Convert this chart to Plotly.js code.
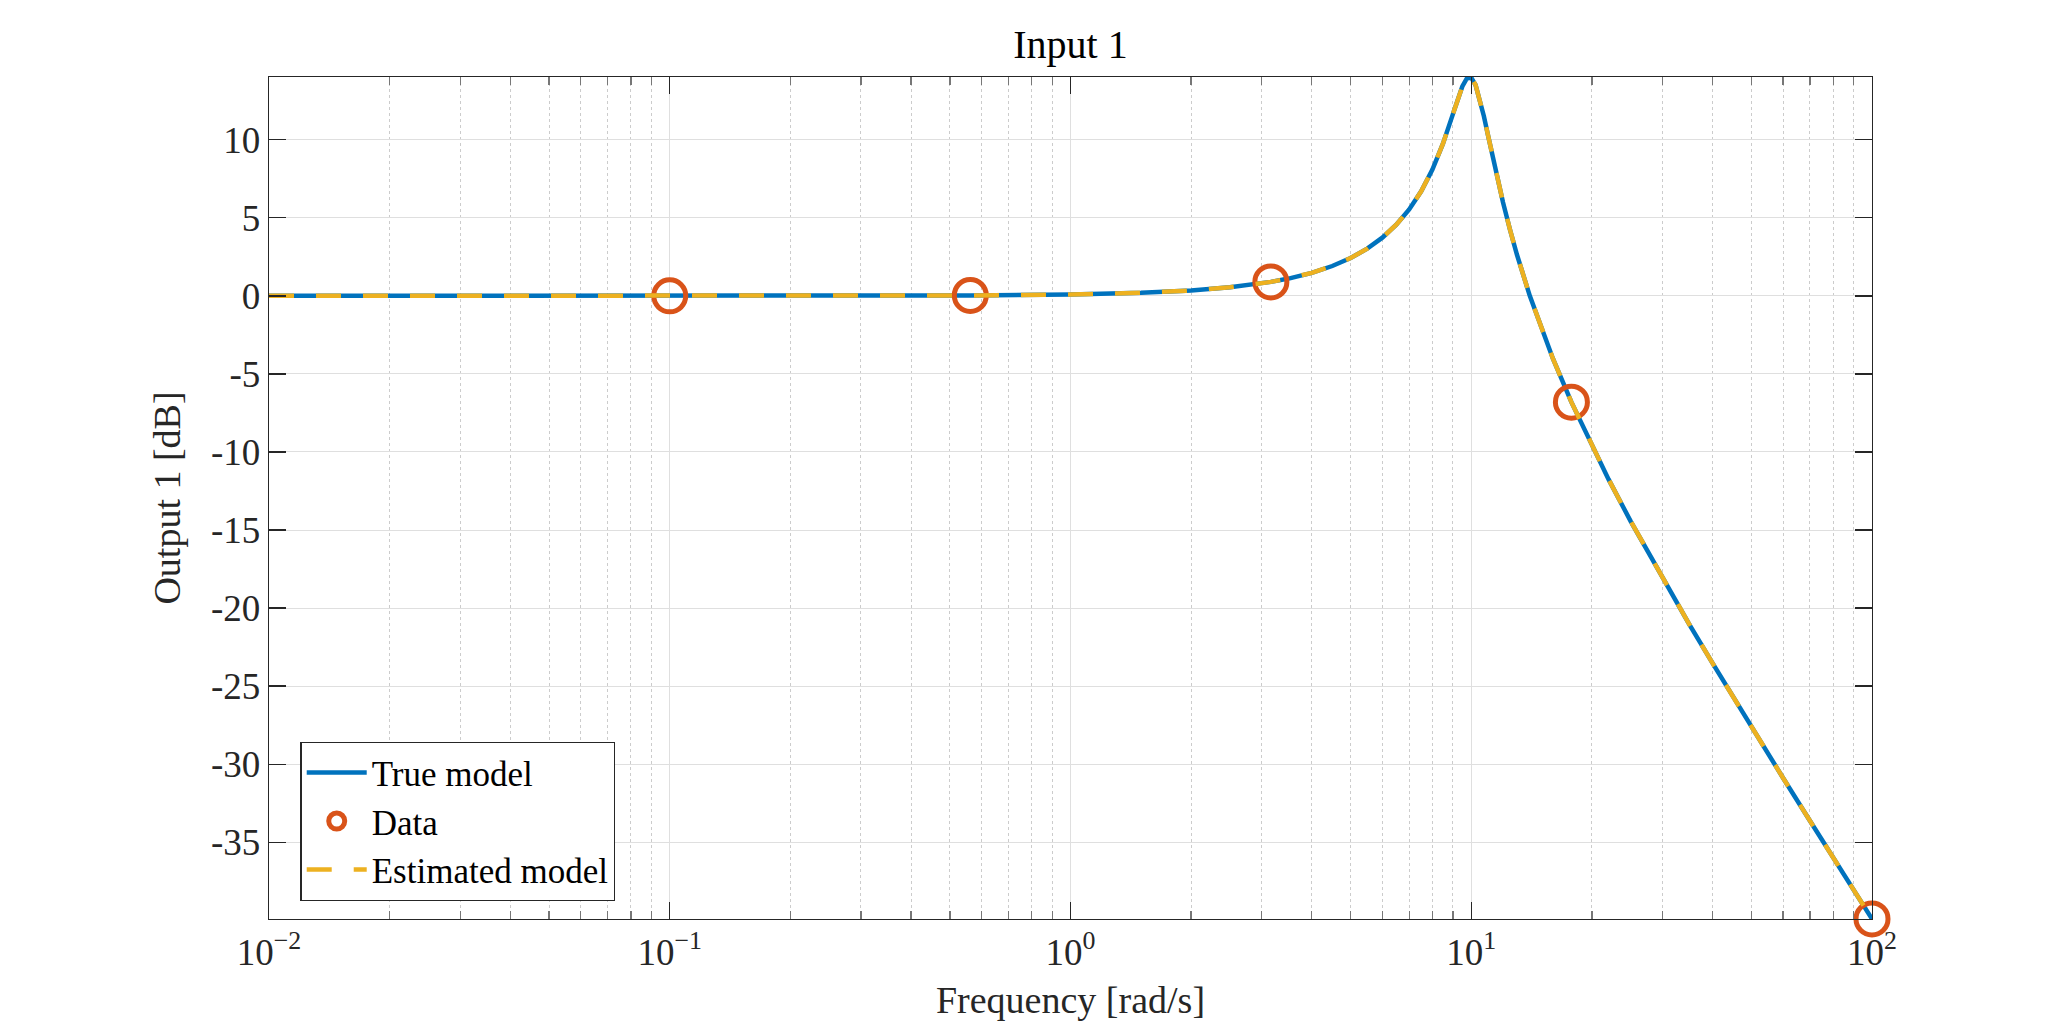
<!DOCTYPE html>
<html>
<head>
<meta charset="utf-8">
<script src="https://cdn.plot.ly/plotly-3.0.1.min.js"></script>
<style>
  html, body { margin: 0; padding: 0; background: #ffffff; }
  #chart { width: 2067px; height: 1033px; }
</style>
</head>
<body>
<div id="chart"></div>
<script>
// Frequency response magnitude, Input 1 -> Output 1
const freq = [0.01, 0.03, 0.1, 0.3, 0.5623, 1,
              1.5, 2, 2.5, 3.162, 3.5, 4, 4.5, 5, 5.5, 6, 6.5, 7, 7.5, 8, 8.5, 9, 9.25, 9.5, 9.75, 10,
              10.25, 10.5, 10.75, 11, 11.5, 12, 12.5, 13, 14, 15, 16, 17.78,
              20, 22, 25, 30, 35, 40, 45, 50, 60, 70, 80, 90, 100];
const trueMag = [0.000, 0.000, 0.001, 0.008, 0.027, 0.086,
                 0.194, 0.347, 0.548, 0.894, 1.108, 1.475, 1.911, 2.423, 3.022, 3.726, 4.554, 5.533, 6.697, 8.091, 9.750, 11.643, 12.591, 13.410, 13.929, 13.979,
                 13.508, 12.628, 11.522, 10.339, 8.044, 6.000, 4.215, 2.647, 0.000, -2.181, -4.042, -6.81,
                 -9.619, -11.743, -14.443, -18.086, -21.040, -23.534, -25.698, -27.612, -30.887, -33.629, -35.990, -38.064, -39.915];
const estMag = trueMag.slice();

// Measured samples
const dataFreq = [0.1, 0.5623, 3.162, 17.78, 100];
const dataMag = [0.001, 0.027, 0.894, -6.81, -39.915];

// Axis ticks
const xTickVals = [0.01, 0.1, 1, 10, 100];
const xTickText = ['10<sup>\u22122</sup>', '10<sup>\u22121</sup>', '10<sup>0</sup>', '10<sup>1</sup>', '10<sup>2</sup>'];
const yTickVals = [-35, -30, -25, -20, -15, -10, -5, 0, 5, 10];
const yTickText = ['-35', '-30', '-25', '-20', '-15', '-10', '-5', '0', '5', '10'];

const FONT = 'Liberation Serif, Times New Roman, serif';
const INK = '#262626';

const traces = [
  {
    x: freq, y: trueMag, name: 'True model', type: 'scatter', mode: 'lines',
    line: { color: '#0072BD', width: 4.5 }
  },
  {
    x: dataFreq, y: dataMag, name: 'Data', type: 'scatter', mode: 'markers',
    cliponaxis: false,
    marker: { symbol: 'circle-open', size: 32, color: '#D95319', line: { color: '#D95319', width: 5 } }
  },
  {
    x: freq, y: estMag, name: 'Estimated model', type: 'scatter', mode: 'lines',
    line: { color: '#EDB120', width: 4.5, dash: '25px,22px' }
  }
];

const layout = {
  width: 2067, height: 1033,
  paper_bgcolor: '#ffffff', plot_bgcolor: '#ffffff',
  margin: { l: 269, r: 195, t: 77, b: 114 },
  font: { family: FONT, color: INK, size: 37 },
  title: {
    text: 'Input 1', font: { family: FONT, size: 40, color: '#000000' },
    x: (269 + (2067 - 195)) / 2 / 2067, xanchor: 'center', xref: 'container',
    y: 1 - 44 / 1033, yanchor: 'middle', yref: 'container'
  },
  xaxis: {
    type: 'log', range: [-2, 2], autorange: false,
    tickvals: xTickVals, ticktext: xTickText,
    ticks: 'inside', ticklen: 17, tickwidth: 1.3, tickcolor: INK,
    showline: true, linecolor: INK, linewidth: 1.3, mirror: 'ticks',
    showgrid: true, gridcolor: '#DFDFDF', gridwidth: 1,
    zeroline: false,
    minor: { dtick: 'D1', ticks: 'inside', ticklen: 8, tickcolor: '#777777', tickwidth: 1.3,
             showgrid: true, gridcolor: '#CCCCCC', griddash: 'dot', gridwidth: 1 },
    tickfont: { family: FONT, size: 37, color: INK },
    title: { text: 'Frequency [rad/s]', font: { family: FONT, size: 38, color: INK }, standoff: 14 },
    automargin: false
  },
  yaxis: {
    range: [-39.92, 14.02], autorange: false,
    tickvals: yTickVals, ticktext: yTickText,
    ticks: 'inside', ticklen: 17, tickwidth: 1.3, tickcolor: INK,
    showline: true, linecolor: INK, linewidth: 1.3, mirror: 'ticks',
    showgrid: true, gridcolor: '#DFDFDF', gridwidth: 1,
    zeroline: false,
    tickfont: { family: FONT, size: 37, color: INK },
    title: { text: 'Output 1 [dB]', font: { family: FONT, size: 38, color: INK }, standoff: 18 },
    automargin: false
  },
  showlegend: true,
  legend: {
    x: 0.0196, y: 0.0214, xanchor: 'left', yanchor: 'bottom',
    bgcolor: '#ffffff', bordercolor: INK, borderwidth: 1.3,
    font: { family: FONT, size: 35, color: '#000000' },
    itemwidth: 60, tracegroupgap: 0
  }
};

Plotly.newPlot('chart', traces, layout, { staticPlot: true, displayModeBar: false });
</script>
</body>
</html>
